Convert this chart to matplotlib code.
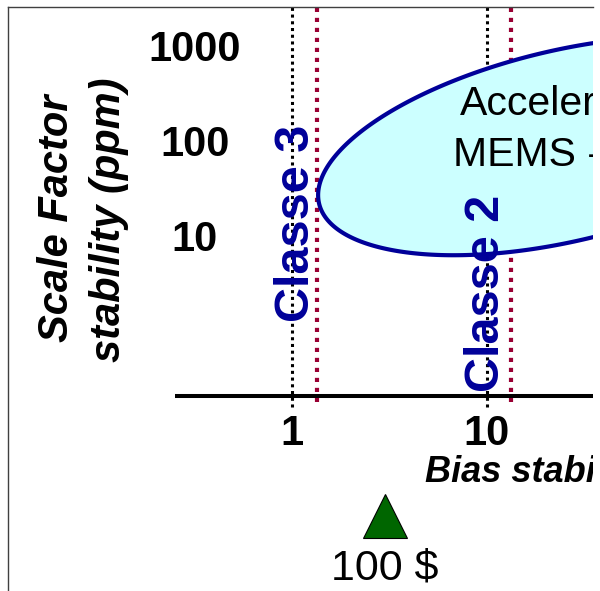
import numpy as np
import matplotlib
matplotlib.use('Agg')
import matplotlib.pyplot as plt
from matplotlib.transforms import blended_transform_factory

plt.rcParams['font.family'] = ['Liberation Sans', 'DejaVu Sans']

# axis ticks of the diagram (log-log)
bias_ticks = [1, 10]
bias_tick_labels = ['1', '10']
sf_ticks = [1000, 100, 10]
sf_tick_labels = ['1000', '100', '10']

# class boundaries on the bias axis
class_lines = [1, 10]          # black dotted
class_limits = [1.35, 13.3]    # maroon dotted
class_names = ['Classe 3', 'Classe 2']
class_text_pos = [(1.06, 15.1), (9.9, 2.77)]

# MEMS accelerometer region (ellipse in log-decades)
accel_center = (25.0, 98.0)
accel_axis_u = (1.264, 0.519)
accel_axis_v = (0.0, 1.028)
accel_lines = ['Accelerometers', 'MEMS - Quartz']
accel_text_pos = [(7.27, 207.0), (6.69, 61.5)]

# diagram origin
bias_origin = 0.25
sf_origin = 0.23

# cost marker
cost_bias = 3.0
cost_label = '100 $'

fig = plt.figure(figsize=(6, 5.91), dpi=100)
ax = fig.add_axes([8 / 600, 0, 585 / 600, 584 / 591])
ax.set_xscale('log')
ax.set_yscale('log')
ax.set_xlim(10 ** -1.4564, 10 ** 1.5436)
ax.set_ylim(10 ** -2.6947, 10 ** 3.4526)
ax.set_xticks([])
ax.set_yticks([])
ax.minorticks_off()
for s in ['bottom', 'right']:
    ax.spines[s].set_visible(False)
for s in ['left', 'top']:
    ax.spines[s].set_color('#404040')
    ax.spines[s].set_linewidth(1.0)

# vertical dotted lines
for x in class_lines:
    ax.plot([x, x], [10 ** -0.758, 10 ** 3.5], color='black', lw=2.2,
            linestyle=(0, (1, 1.2)), zorder=1)
for x in class_limits:
    ax.plot([x, x], [10 ** -0.70, 10 ** 3.5], color='#990033', lw=3.0,
            linestyle=(0, (1, 1.4)), zorder=1)

# horizontal axis line
ax.plot([bias_origin, 100], [sf_origin, sf_origin], color='black', lw=2.9,
        solid_capstyle='butt', zorder=2)

# ellipse
t = np.linspace(0, 2 * np.pi, 400)
lx = np.log10(accel_center[0]) + accel_axis_u[0] * np.cos(t) + accel_axis_v[0] * np.sin(t)
ly = np.log10(accel_center[1]) + accel_axis_u[1] * np.cos(t) + accel_axis_v[1] * np.sin(t)
ax.fill(10 ** lx, 10 ** ly, facecolor='#CCFFFF', edgecolor='#000099', lw=3.0, zorder=2)

for line, (bx, sy) in zip(accel_lines, accel_text_pos):
    ax.text(bx, sy, line, fontsize=29.5, ha='left', va='baseline', color='black',
            zorder=3, clip_on=True)

# class labels
for name, (bx, sy) in zip(class_names, class_text_pos):
    ax.text(bx, sy, name, rotation=90, fontsize=35, fontweight='bold',
            color='#000099', ha='center', va='center', zorder=3)

# tick labels
xt = blended_transform_factory(ax.transData, fig.transFigure)
for v, lab in zip(bias_ticks, bias_tick_labels):
    ax.text(v, 1 - 445 / 591, lab, transform=xt,
            fontsize=30, fontweight='bold', ha='center', va='baseline')
yt = blended_transform_factory(fig.transFigure, ax.transData)
for v, lab in zip(sf_ticks, sf_tick_labels):
    ax.text(195 / 600, v, lab, transform=yt, fontsize=30, fontweight='bold',
            ha='center', va='center')

# axis titles
fig.text(68 / 600, 1 - 218 / 591, 'Scale Factor', rotation=90, rotation_mode='anchor',
         fontsize=30, fontweight='bold', fontstyle='italic', ha='center', va='baseline')
fig.text(120 / 600, 1 - 220 / 591, 'stability (ppm)', rotation=90, rotation_mode='anchor',
         fontsize=30, fontweight='bold', fontstyle='italic', ha='center', va='baseline')
ax.text((425 - 8) / 585, 1 - (482 - 7) / 584, 'Bias stability (°/h)', transform=ax.transAxes,
        fontsize=26, fontweight='bold', fontstyle='italic', ha='left', va='baseline',
        clip_on=True)

# cost marker
ax.plot([cost_bias], [1 - 516 / 591], transform=xt, marker='^', markersize=31,
        color='#006600', markeredgecolor='black', markeredgewidth=0.8, linestyle='none')
ax.text(cost_bias, 1 - 580 / 591, cost_label, fontsize=31, ha='center', va='baseline',
        transform=xt)

fig.savefig('out.png', dpi=100)
